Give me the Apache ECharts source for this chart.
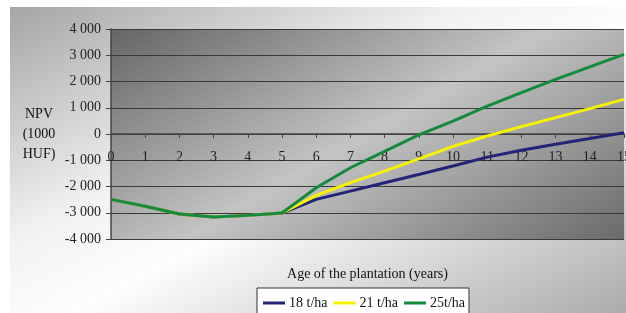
<!DOCTYPE html>
<html>
<head>
<meta charset="utf-8">
<script src="https://cdn.jsdelivr.net/npm/echarts@6/dist/echarts.min.js"></script>
<style>
  html, body { margin: 0; padding: 0; background: #fff; }
  #chart { width: 626px; height: 313px; }
</style>
</head>
<body>
<div id="chart"></div>
<script>
// age of the plantation (years)
const years = ['0', '1', '2', '3', '4', '5', '6', '7', '8', '9', '10', '11', '12', '13', '14', '15'];
const seriesNames = ['18 t/ha', '21 t/ha', '25t/ha'];
// NPV (1000 HUF)
const npv18 = [-2490, -2750, -3050, -3160, -3100, -3010, -2490, -2175, -1855, -1540, -1220, -880, -620, -390, -175, 50];
const npv21 = [-2490, -2750, -3050, -3160, -3100, -3010, -2340, -1855, -1415, -950, -470, -75, 280, 625, 965, 1320];
const npv25 = [-2490, -2750, -3050, -3160, -3100, -3010, -2050, -1285, -660, -30, 490, 1065, 1575, 2080, 2560, 3030];

const serif = '"Liberation Serif", "DejaVu Serif", serif';

function fmt(v) {
  // 4000 -> "4 000"
  const s = String(Math.abs(v)).replace(/\B(?=(\d{3})+(?!\d))/g, ' ');
  return (v < 0 ? '-' : '') + s;
}

const chart = echarts.init(document.getElementById('chart'));
chart.setOption({
  animation: false,
  backgroundColor: '#fff',
  graphic: [
    {
      // outer chart area, grey corners with a light diagonal band
      type: 'rect', z: -10, silent: true,
      shape: { x: 10, y: 7, width: 616, height: 306 },
      style: {
        fill: new echarts.graphic.LinearGradient(179, -112, 451, 422, [
          { offset: 0, color: '#9a9a9a' },
          { offset: 0.4, color: '#f2f2f2' },
          { offset: 0.55, color: '#fdfdfd' },
          { offset: 1, color: '#a6a6a6' }
        ], true)
      }
    }
  ],
  grid: {
    left: 111, right: 2, top: 29, bottom: 74,
    outerBoundsMode: 'none',
    show: true, borderWidth: 0,
    backgroundColor: new echarts.graphic.LinearGradient(257, -56, 477, 324, [
      { offset: 0, color: '#656565' },
      { offset: 0.5, color: '#c4c4c4' },
      { offset: 1, color: '#6a6a6a' }
    ], true)
  },
  legend: {
    data: seriesNames,
    left: 257, top: 288,
    backgroundColor: '#fff',
    borderColor: '#333', borderWidth: 1, borderRadius: 0,
    padding: [8, 4, 8, 6],
    itemWidth: 22, itemHeight: 3, itemGap: 6,
    icon: 'rect',
    textStyle: { fontFamily: serif, fontSize: 14, color: '#111', padding: [0, 0, 0, -1] }
  },
  xAxis: {
    type: 'category',
    data: years,
    boundaryGap: false,
    position: 'bottom',
    // the axis crosses the value axis at 0, half way up the plot
    offset: -105,
    name: 'Age of the plantation (years)',
    nameLocation: 'middle',
    nameGap: 133,
    nameTextStyle: { fontFamily: serif, fontSize: 14, color: '#111' },
    axisLine: { onZero: false, lineStyle: { color: '#444', width: 1.5 } },
    axisTick: { show: true, alignWithLabel: true, length: 4, lineStyle: { color: '#444' } },
    axisLabel: { interval: 0, margin: 16, fontFamily: serif, fontSize: 14, color: '#222' },
    splitLine: { show: false }
  },
  yAxis: {
    type: 'value',
    min: -4000, max: 4000, interval: 1000,
    name: 'NPV\n(1000\nHUF)',
    nameLocation: 'middle',
    nameRotate: 0,
    nameGap: 72,
    nameTextStyle: { fontFamily: serif, fontSize: 14, color: '#111', lineHeight: 20, align: 'center' },
    axisLine: { show: true, lineStyle: { color: '#444', width: 1.5 } },
    axisTick: { show: true, length: 5, lineStyle: { color: '#444' } },
    axisLabel: { fontFamily: serif, fontSize: 14, color: '#222', margin: 10, formatter: fmt },
    splitLine: { show: true, lineStyle: { color: '#3a3a3a', width: 1.2 } }
  },
  series: [
    { name: seriesNames[0], type: 'line', data: npv18, smooth: false, showSymbol: false, symbol: 'none',
      itemStyle: { color: '#232378' }, lineStyle: { color: '#232378', width: 3 } },
    { name: seriesNames[1], type: 'line', data: npv21, smooth: false, showSymbol: false, symbol: 'none',
      itemStyle: { color: '#f7f200' }, lineStyle: { color: '#f7f200', width: 3 } },
    { name: seriesNames[2], type: 'line', data: npv25, smooth: false, showSymbol: false, symbol: 'none',
      itemStyle: { color: '#138a3e' }, lineStyle: { color: '#138a3e', width: 3 } }
  ]
});
</script>
</body>
</html>
